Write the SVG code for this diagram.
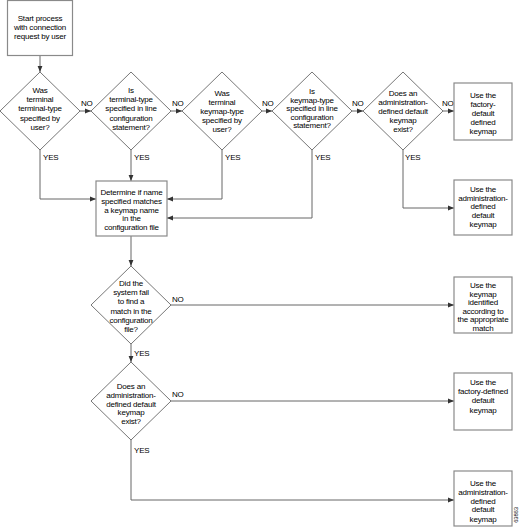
<svg xmlns="http://www.w3.org/2000/svg" width="522" height="527" viewBox="0 0 522 527">
<style>
text{font-family:"Liberation Sans",Arial,sans-serif;font-size:8px;fill:#000;text-anchor:middle;letter-spacing:-0.2px}
.box{fill:#fff;stroke:#8a8a8a;stroke-width:1.2}
.dia{fill:#fff;stroke:#777;stroke-width:1}
.c{fill:none;stroke:#666;stroke-width:1}
.lbl{text-anchor:start}
</style>
<defs>
<marker id="ah" markerUnits="userSpaceOnUse" markerWidth="7" markerHeight="6" refX="6" refY="3" orient="auto">
<path d="M0,0.6 L6,3 L0,5.4 Z" fill="#333"/>
</marker>
</defs>
<rect width="522" height="527" fill="#fff"/>
<g id="connectors">
<path class="c" d="M40,55 V72" marker-end="url(#ah)"/>
<path class="c" d="M80,111 H91" marker-end="url(#ah)"/>
<path class="c" d="M171,111 H182" marker-end="url(#ah)"/>
<path class="c" d="M262,111 H272" marker-end="url(#ah)"/>
<path class="c" d="M352,111 H363" marker-end="url(#ah)"/>
<path class="c" d="M443,111 H454" marker-end="url(#ah)"/>
<path class="c" d="M40,150 V199 H96" marker-end="url(#ah)"/>
<path class="c" d="M131,150 V181" marker-end="url(#ah)"/>
<path class="c" d="M222,150 V199 H167" marker-end="url(#ah)"/>
<path class="c" d="M312,150 V218 H167" marker-end="url(#ah)"/>
<path class="c" d="M403,150 V208 H454" marker-end="url(#ah)"/>
<path class="c" d="M131,236 V266" marker-end="url(#ah)"/>
<path class="c" d="M171,305 H454" marker-end="url(#ah)"/>
<path class="c" d="M131,344 V362" marker-end="url(#ah)"/>
<path class="c" d="M171,401 H454" marker-end="url(#ah)"/>
<path class="c" d="M131,440 V500 H454" marker-end="url(#ah)"/>
<text class="lbl" x="81" y="106">NO</text>
<text class="lbl" x="172" y="106">NO</text>
<text class="lbl" x="262" y="106">NO</text>
<text class="lbl" x="352" y="106">NO</text>
<text class="lbl" x="442" y="106">NO</text>
<text class="lbl" x="43" y="160">YES</text>
<text class="lbl" x="134" y="160">YES</text>
<text class="lbl" x="225" y="160">YES</text>
<text class="lbl" x="315" y="160">YES</text>
<text class="lbl" x="405" y="160">YES</text>
<text class="lbl" x="172" y="302">NO</text>
<text class="lbl" x="134" y="356">YES</text>
<text class="lbl" x="172" y="397">NO</text>
<text class="lbl" x="134" y="453">YES</text>
</g>
<g id="start">
<rect class="box" x="7.5" y="0.5" width="65" height="55"/>
<text x="40" y="21">Start process</text>
<text x="40" y="30">with connection</text>
<text x="40" y="39">request by user</text>
</g>
<g id="d1">
<polygon class="dia" points="40,72 80,111 40,150 0,111"/>
<text x="40" y="93">Was</text>
<text x="40" y="102">terminal</text>
<text x="40" y="111">terminal-type</text>
<text x="40" y="121">specified by</text>
<text x="40" y="130">user?</text>
</g>
<g id="d2">
<polygon class="dia" points="131,72 171,111 131,150 91,111"/>
<text x="131" y="93">Is</text>
<text x="131" y="102">terminal-type</text>
<text x="131" y="111">specified in line</text>
<text x="131" y="121">configuration</text>
<text x="131" y="130">statement?</text>
</g>
<g id="d3">
<polygon class="dia" points="222,72 262,111 222,150 182,111"/>
<text x="222" y="96">Was</text>
<text x="222" y="105">terminal</text>
<text x="222" y="114">keymap-type</text>
<text x="222" y="123">specified by</text>
<text x="222" y="132">user?</text>
</g>
<g id="d4">
<polygon class="dia" points="312,72 352,111 312,150 272,111"/>
<text x="312" y="94">Is</text>
<text x="312" y="102.5">keymap-type</text>
<text x="312" y="111">specified in line</text>
<text x="312" y="119.5">configuration</text>
<text x="312" y="128">statement?</text>
</g>
<g id="d5">
<polygon class="dia" points="403,72 443,111 403,150 363,111"/>
<text x="403" y="96">Does an</text>
<text x="403" y="105">administration-</text>
<text x="403" y="114">defined default</text>
<text x="403" y="123">keymap</text>
<text x="403" y="132">exist?</text>
</g>
<g id="b1">
<rect class="box" x="454" y="83" width="58" height="57"/>
<text x="483" y="98">Use the</text>
<text x="483" y="107">factory-</text>
<text x="483" y="116">default</text>
<text x="483" y="125">defined</text>
<text x="483" y="134">keymap</text>
</g>
<g id="b2">
<rect class="box" x="454" y="180" width="58" height="55"/>
<text x="483" y="192">Use the</text>
<text x="483" y="200.5">administration-</text>
<text x="483" y="209">defined</text>
<text x="483" y="218">default</text>
<text x="483" y="226.5">keymap</text>
</g>
<g id="determine">
<rect class="box" x="96" y="181" width="71" height="55"/>
<text x="131.5" y="195">Determine if name</text>
<text x="131.5" y="204">specified matches</text>
<text x="131.5" y="212.5">a keymap name</text>
<text x="131.5" y="221">in the</text>
<text x="131.5" y="230">configuration file</text>
</g>
<g id="d6">
<polygon class="dia" points="131,266 171,305 131,344 91,305"/>
<text x="131" y="286">Did the</text>
<text x="131" y="295">system fail</text>
<text x="131" y="303.5">to find a</text>
<text x="131" y="314">match in the</text>
<text x="131" y="323">configuration</text>
<text x="131" y="332">file?</text>
</g>
<g id="b3">
<rect class="box" x="454" y="277" width="58" height="56"/>
<text x="483" y="288">Use the</text>
<text x="483" y="296.5">keymap</text>
<text x="483" y="305">identified</text>
<text x="483" y="313.5">according to</text>
<text x="483" y="322">the appropriate</text>
<text x="483" y="330.5">match</text>
</g>
<g id="d7">
<polygon class="dia" points="131,362 171,401 131,440 91,401"/>
<text x="131" y="389">Does an</text>
<text x="131" y="398">administration-</text>
<text x="131" y="406.5">defined default</text>
<text x="131" y="415">keymap</text>
<text x="131" y="424">exist?</text>
</g>
<g id="b4">
<rect class="box" x="454" y="373" width="58" height="57"/>
<text x="483" y="385">Use the</text>
<text x="483" y="394">factory-defined</text>
<text x="483" y="403">default</text>
<text x="483" y="413">keymap</text>
</g>
<g id="b5">
<rect class="box" x="454" y="471" width="58" height="55"/>
<text x="483" y="486">Use the</text>
<text x="483" y="495">administration-</text>
<text x="483" y="503.5">defined</text>
<text x="483" y="512">default</text>
<text x="483" y="521.5">keymap</text>
</g>
<text x="0" y="0" transform="translate(518,515) rotate(-90)" style="font-size:6px">63863</text>
</svg>
